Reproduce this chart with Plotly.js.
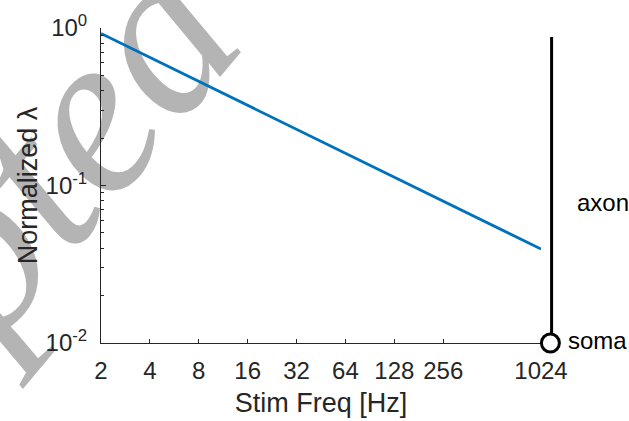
<!DOCTYPE html>
<html>
<head>
<meta charset="utf-8">
<script src="https://cdn.plot.ly/plotly-3.0.1.min.js"></script>
<style>
  html, body { margin: 0; padding: 0; background: #ffffff; }
  #wrap { position: relative; width: 629px; height: 421px; overflow: hidden; }
  #mark { position: absolute; left: 0; top: 0; }
  #chart { position: absolute; left: 0; top: 0; width: 629px; height: 421px; }
</style>
</head>
<body>
<div id="wrap">
  <svg id="mark" width="629" height="421">
    <text transform="translate(-296,692) rotate(-50)" font-family="Liberation Serif, Times New Roman, serif"
          font-style="italic" font-size="232" fill="#b4b4b4">Accepted</text>
  </svg>
  <div id="chart"></div>
</div>
<script>
// Length constant vs stimulation frequency (log-log)
const freqHz     = [2, 4, 8, 16, 32, 64, 128, 256, 512, 1024];
const lambdaNorm = [0.923, 0.651, 0.459, 0.324, 0.228, 0.161, 0.1135, 0.080, 0.0565, 0.0395];

// Axis ticks
const freqTicks   = [2, 4, 8, 16, 32, 64, 128, 256, 1024];
const freqLabels  = ['2', '4', '8', '16', '32', '64', '128', '256', '1024'];
const lambdaTicks  = [0.01, 0.1, 1];
const lambdaLabels = ['10<sup>-2</sup>', '10<sup>-1</sup>', '10<sup>0</sup>'];
const lambdaMinor  = [0.02, 0.03, 0.04, 0.05, 0.06, 0.07, 0.08, 0.09,
                      0.2, 0.3, 0.4, 0.5, 0.6, 0.7, 0.8, 0.9];

// Neuron sketch beside the axes: soma at the bottom, axon running up
const neuronX = [1190, 1190];
const neuronY = [0.01, 0.877];
const somaX   = [1170];
const somaY   = [0.01];

// Plot-area geometry in pixels
const W = 629, H = 421;
const L = 101, R = 29, T = 28, B = 58;
const plotW = W - L - R;
const plotH = H - T - B;
const axisRightPx = 541;
const octavePx = (axisRightPx - L) / Math.log2(1024 / 2);
const decadePx = (343 - T) / 2;
const xFrac = (px) => (px - L) / plotW;
const l2 = Math.log10(2);

const sideStartPx = 530;
const side0 = Math.log10(1024) - ((axisRightPx - sideStartPx) / octavePx) * l2;
const side1 = Math.log10(1024) + ((L + plotW - axisRightPx) / octavePx) * l2;
const yMainFrac = (T + plotH - 343) / plotH;
const yExt0 = -2 - (T + plotH - 343) / decadePx;

const ink = '#262626';
const font = 'Liberation Sans, Arial, Helvetica, sans-serif';

const traces = [
  {
    x: freqHz, y: lambdaNorm, type: 'scatter', mode: 'lines',
    xaxis: 'x', yaxis: 'y',
    line: { color: '#0072BD', width: 2.8 },
    hoverinfo: 'skip'
  },
  {
    x: neuronX, y: neuronY, type: 'scatter', mode: 'lines',
    xaxis: 'x2', yaxis: 'y2',
    line: { color: '#000000', width: 3 },
    hoverinfo: 'skip'
  },
  {
    x: somaX, y: somaY, type: 'scatter', mode: 'markers',
    xaxis: 'x2', yaxis: 'y2', cliponaxis: false,
    marker: { symbol: 'circle', size: 18, color: '#ffffff',
              line: { color: '#000000', width: 3 } },
    hoverinfo: 'skip'
  }
];

const layout = {
  width: W, height: H,
  margin: { l: L, r: R, t: T, b: B, pad: 0 },
  paper_bgcolor: 'rgba(0,0,0,0)',
  plot_bgcolor: 'rgba(0,0,0,0)',
  showlegend: false,
  font: { family: font, color: ink, size: 24 },
  xaxis: {
    type: 'log', anchor: 'y',
    domain: [0, xFrac(axisRightPx)],
    range: [Math.log10(2), Math.log10(1024)],
    tickmode: 'array', tickvals: freqTicks, ticktext: freqLabels,
    ticks: 'inside', ticklen: 4, tickwidth: 1, tickcolor: ink,
    showline: true, linecolor: ink, linewidth: 1,
    showgrid: false, zeroline: false,
    tickfont: { size: 24, color: ink, family: font },
    ticklabelstandoff: 6,
    title: { text: 'Stim Freq [Hz]', font: { size: 27, color: ink, family: font }, standoff: 10 }
  },
  yaxis: {
    type: 'log', anchor: 'x',
    domain: [yMainFrac, 1],
    range: [-2, 0],
    tickmode: 'array', tickvals: lambdaTicks, ticktext: lambdaLabels,
    ticks: 'inside', ticklen: 5, tickwidth: 1, tickcolor: ink,
    minor: { tickmode: 'array', tickvals: lambdaMinor, ticks: 'inside', ticklen: 3,
             tickwidth: 1, tickcolor: ink, showgrid: false },
    showline: true, linecolor: ink, linewidth: 1,
    showgrid: false, zeroline: false,
    tickfont: { size: 24, color: ink, family: font },
    ticklabelstandoff: 8,
    title: { text: 'Normalized λ', font: { size: 27, color: ink, family: font }, standoff: 0 }
  },
  xaxis2: {
    type: 'log', anchor: 'y2',
    domain: [xFrac(sideStartPx), 1],
    range: [side0, side1],
    visible: false, fixedrange: true
  },
  yaxis2: {
    type: 'log', anchor: 'x2',
    domain: [0, 1],
    range: [yExt0, 0],
    visible: false, fixedrange: true
  },
  annotations: [
    {
      text: 'axon', xref: 'x2', yref: 'y2',
      x: Math.log10(neuronX[0]), y: Math.log10(0.078),
      xanchor: 'left', yanchor: 'middle', xshift: 23, showarrow: false,
      font: { size: 24, color: '#000000', family: font }
    },
    {
      text: 'soma', xref: 'x2', yref: 'y2',
      x: Math.log10(somaX[0]), y: Math.log10(somaY[0]),
      xanchor: 'left', yanchor: 'middle', xshift: 16, yshift: 3, showarrow: false,
      font: { size: 24, color: '#000000', family: font }
    }
  ]
};

Plotly.newPlot('chart', traces, layout, { staticPlot: true, displayModeBar: false });
</script>
</body>
</html>
